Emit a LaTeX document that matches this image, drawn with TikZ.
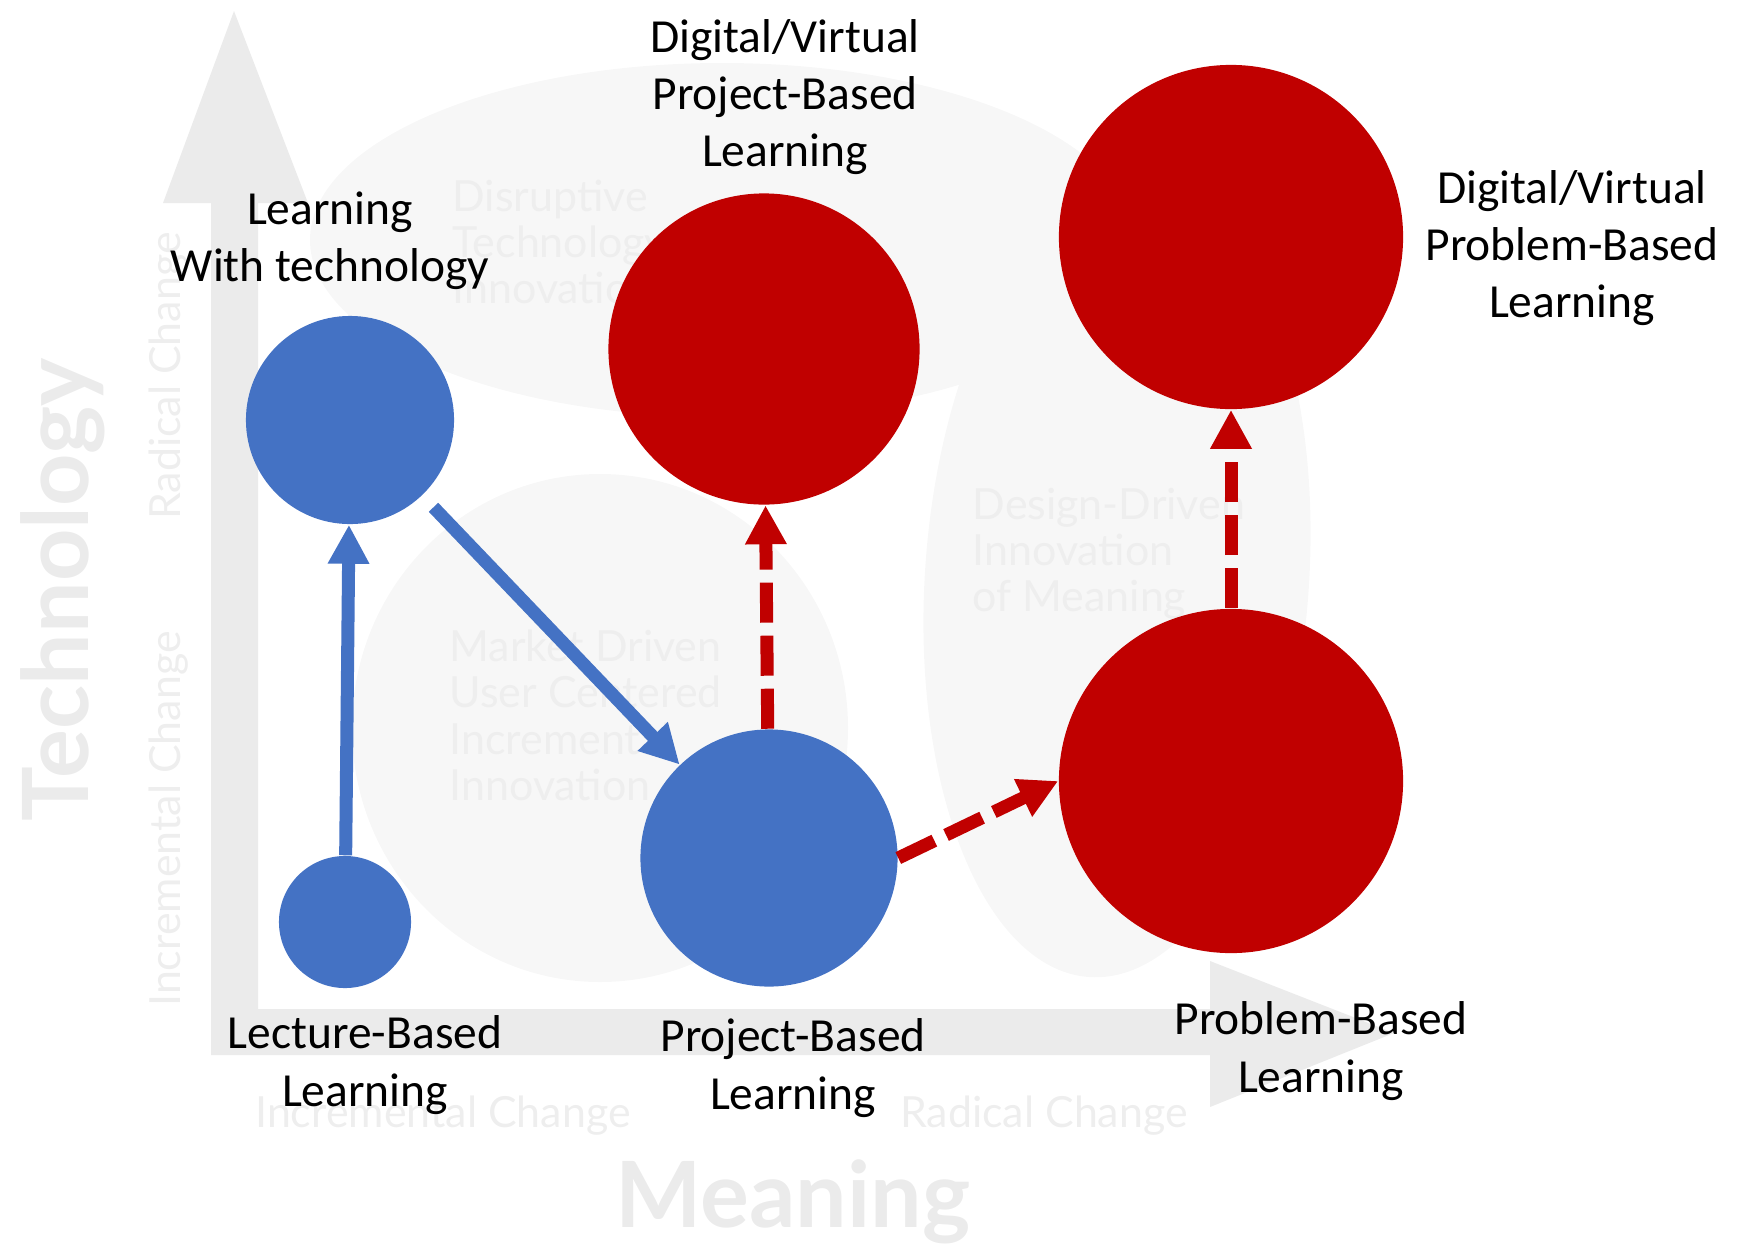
\documentclass[tikz,border=0pt]{standalone}
\usepackage{fontspec}
\setmainfont{Carlito}
\newfontfamily\bgfont{Lato}
\usepackage{xcolor}
\usepackage{tikz}
\usetikzlibrary{arrows.meta, positioning}

\definecolor{nodeblue}{HTML}{4472C4}
\definecolor{nodered}{HTML}{C00000}
\definecolor{axisgray}{HTML}{EBEBEB}
\definecolor{blobgray}{HTML}{F7F7F7}
\definecolor{ghostgray}{HTML}{EEEEEE}

\begin{document}
\begin{tikzpicture}[x=0.01cm, y=-0.01cm,
  dot/.style={circle, draw=none, inner sep=0pt},
  bluedot/.style={dot, fill=nodeblue},
  reddot/.style={dot, fill=nodered},
  lbl/.style={font=\fontsize{13.5}{16.3}\selectfont, align=center, inner sep=0pt},
  ghost/.style={text=ghostgray, inner sep=0pt, font=\bgfont\fontsize{12.2}{13.2}\selectfont},
  ghostbig/.style={text=axisgray, inner sep=0pt, font=\bgfont\bfseries\fontsize{26}{30}\selectfont},
  solidarrow/.style={line width=3.7pt, nodeblue, -{Triangle[length=3.9mm, width=3.9mm]}},
  dasharrow/.style={line width=3.7pt, nodered, dash pattern=on 4mm off 1.3mm,
                    -{Triangle[length=3.9mm, width=3.9mm]}}
]
\useasboundingbox (0,0) rectangle (1742,1254);

%% Faded background
\fill[blobgray] (722,240) ellipse [x radius=412, y radius=177];
\fill[blobgray] (600,728) ellipse [x radius=248, y radius=254];
\fill[blobgray, rotate around={-4:(1117,578)}] (1117,578) ellipse [x radius=192, y radius=400];
\fill[axisgray] (211,1055) -- (211,203) -- (163,203) -- (234,11) -- (308,203) -- (258,203)
  -- (258,1009) -- (1210,1009) -- (1210,961) -- (1394,1033) -- (1210,1107) -- (1210,1055) -- cycle;

\node[ghost, anchor=north west, align=left] (disrupt) at (452,179) {Disruptive\\Technology\\Innovation};
\node[ghost, anchor=north west, align=left] (market) at (449,629) {Market Driven\\User Centered\\Incremental\\Innovation};
\node[ghost, anchor=north west, align=left] (design) at (972,487) {Design-Driven\\Innovation\\of Meaning};
\node[ghost, rotate=90, anchor=base] (radv) at (180,376) {Radical Change};
\node[ghost, rotate=90, anchor=base] (incv) at (180,819) {Incremental Change};
\node[ghost, anchor=base] (inch) at (443,1127) {Incremental Change};
\node[ghost, anchor=base] (radh) at (1044,1127) {Radical Change};
\node[ghostbig, rotate=90, anchor=base] (techaxis) at (88,590) {Technology};
\node[ghostbig, anchor=base] (meanaxis) at (793,1227) {Meaning};

%% Learning modes
\node[bluedot, minimum size=1.32cm] (lecture) at (345,922) {};
\node[bluedot, minimum size=2.08cm] (withtech) at (350,420) {};
\node[bluedot, minimum size=2.57cm] (project) at (769,858) {};
\node[reddot, minimum size=3.11cm] (dvproject) at (764,349) {};
\node[reddot, minimum size=3.44cm] (problem) at (1231,781) {};
\node[reddot, minimum size=3.44cm] (dvproblem) at (1231,237) {};

%% Labels
\node[lbl] (lecturelbl) at (365,1065) {Lecture-Based\\Learning};
\node[lbl] (projectlbl) at (793,1068) {Project-Based\\Learning};
\node[lbl] (problemlbl) at (1321,1051) {Problem-Based\\Learning};
\node[lbl] (withtechlbl) at (330,241) {Learning\\With technology};
\node[lbl] (dvprojectlbl) at (785,97) {Digital/Virtual\\Project-Based\\Learning};
\node[lbl] (dvproblemlbl) at (1572,248) {Digital/Virtual\\Problem-Based\\Learning};

%% Arrows
\draw[solidarrow] (lecture) -- (withtech);
\draw[solidarrow, shorten <=1.6mm] (withtech) -- (project);
\draw[dasharrow] (project) -- (dvproject);
\draw[dasharrow] (project.east) -- (problem.west);
\draw[dasharrow] (problem) -- (dvproblem);
\end{tikzpicture}
\end{document}
